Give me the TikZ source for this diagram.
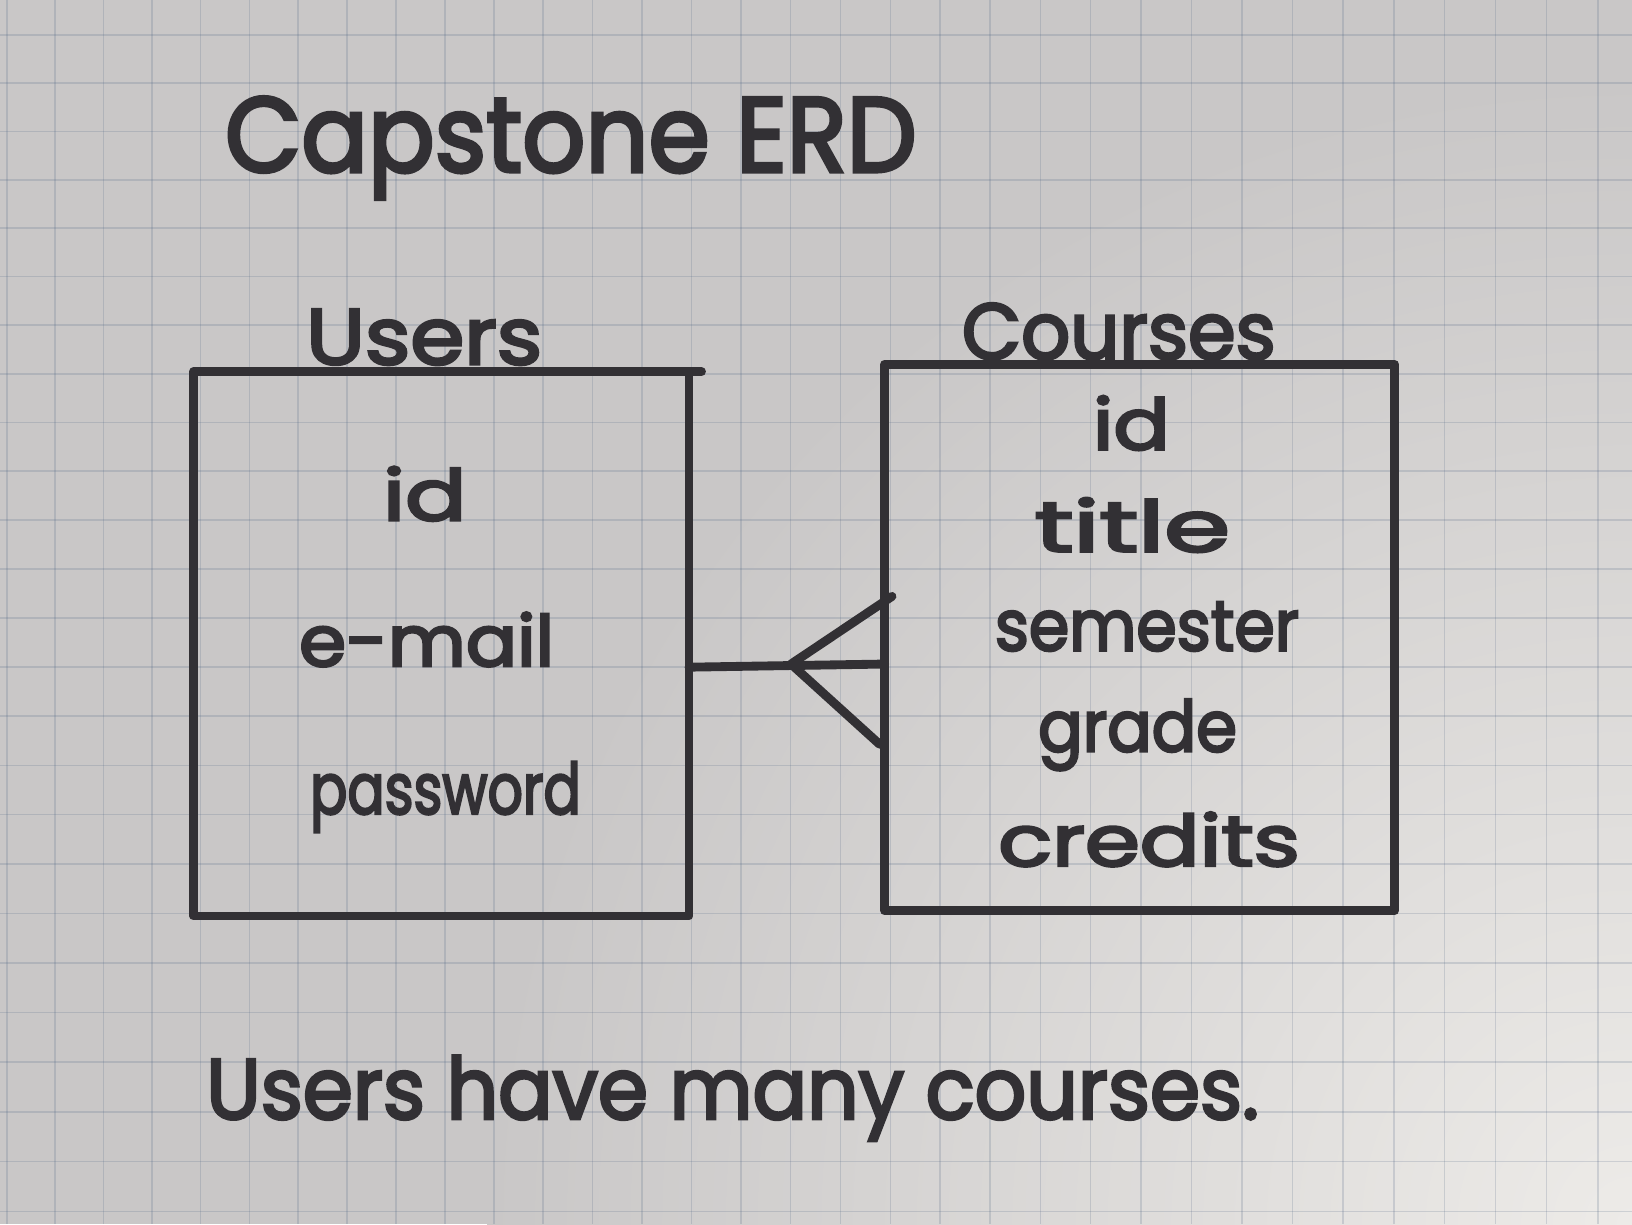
\documentclass[tikz,border=0pt]{standalone}
\usepackage{fontspec}
\setmainfont{Poppins}[FakeBold=3.5]
\usetikzlibrary{calc}
\definecolor{paper}{RGB}{201,199,199}
\definecolor{paperlight}{RGB}{237,235,232}
\definecolor{gridline}{RGB}{80,100,130}
\definecolor{ink}{RGB}{50,48,52}
\newcommand{\hw}[1]{\fontsize{#1}{#1}\selectfont}
\newcommand{\wide}[2]{\scalebox{#1}[1]{#2}}
\begin{document}
\begin{tikzpicture}[x=1pt,y=-1pt,
  inkline/.style={draw=ink, line width=8.5pt, line cap=round, line join=round},
  entity/.style={inkline, rectangle, inner sep=0pt, outer sep=0pt},
  txt/.style={text=ink, inner sep=0pt},
  title/.style={txt, font=\hw{102}},
  ename/.style={txt, font=\hw{76}, anchor=base west},
  attr/.style={txt, font=\hw{68}, anchor=base},
  note/.style={txt, font=\hw{82}, anchor=base west},
  ruling/.style={draw=gridline, draw opacity=0.2, line width=1.5pt}
]
\useasboundingbox (0,0) rectangle (1568,1176);
% graph paper, lit from the lower right
\begin{scope}
\clip (0,0) rectangle (1568,1176);
\fill[paper] (0,0) rectangle (1568,1176);
\shade[inner color=paperlight, outer color=paper] (1568,1176) circle (1100);
\foreach \i in {0,...,32}
  \draw[ruling] ({6.7+46.4*\i+0.044*\i*(\i-1)},0) -- ++(0,1176);
\foreach \j in {0,...,24}
  \draw[ruling] (0,{33.6+46.3*\j+0.0345*\j*(\j-1)}) -- ++(1568,0);
\end{scope}

% heading
\node[title, anchor=base west] (heading) at (216,165) {\wide{0.93}{Capstone ERD}};

% Users entity
\node[entity, minimum width=476pt, minimum height=523pt] (users) at (424,618.5) {};
\node[ename] (usersname) at (294,350) {\wide{1.1}{Users}};
\draw[inkline] (users.north east) -- ++(12,0);
\node[attr] (uid) at (408,500) {\wide{1.28}{id}};
\node[attr] (uemail) at (410,640) {\wide{1.07}{e-mail}};
\node[attr] (upass) at (428,782) {\wide{0.78}{password}};

% Courses entity
\node[entity, minimum width=490pt, minimum height=525pt] (courses) at (1095,612.5) {};
\node[ename] (coursesname) at (924,345) {\wide{0.97}{Courses}};
\node[attr] (cid) at (1087,432) {\wide{1.18}{id}};
\node[attr] (ctitle) at (1088,530) {\wide{1.5}{title}};
\node[attr] (csem) at (1102,625) {\wide{0.92}{semester}};
\node[attr] (cgrade) at (1093,722) {\wide{0.93}{grade}};
\node[attr] (ccred) at (1104,832) {\wide{1.25}{credits}};

% one-to-many relationship with crow's foot
\coordinate (foot) at (760,638);
\coordinate (prongtop) at (857,573);
\coordinate (prongmid) at (courses.west |- foot);
\coordinate (prongbot) at (845,715);
\draw[inkline] (users.east |- 0,641) -- (prongmid);
\draw[inkline] (prongtop) -- (foot) -- (prongbot);

% caption
\node[note] (caption) at (198,1075) {\wide{0.945}{Users have many courses.}};
\end{tikzpicture}
\end{document}
